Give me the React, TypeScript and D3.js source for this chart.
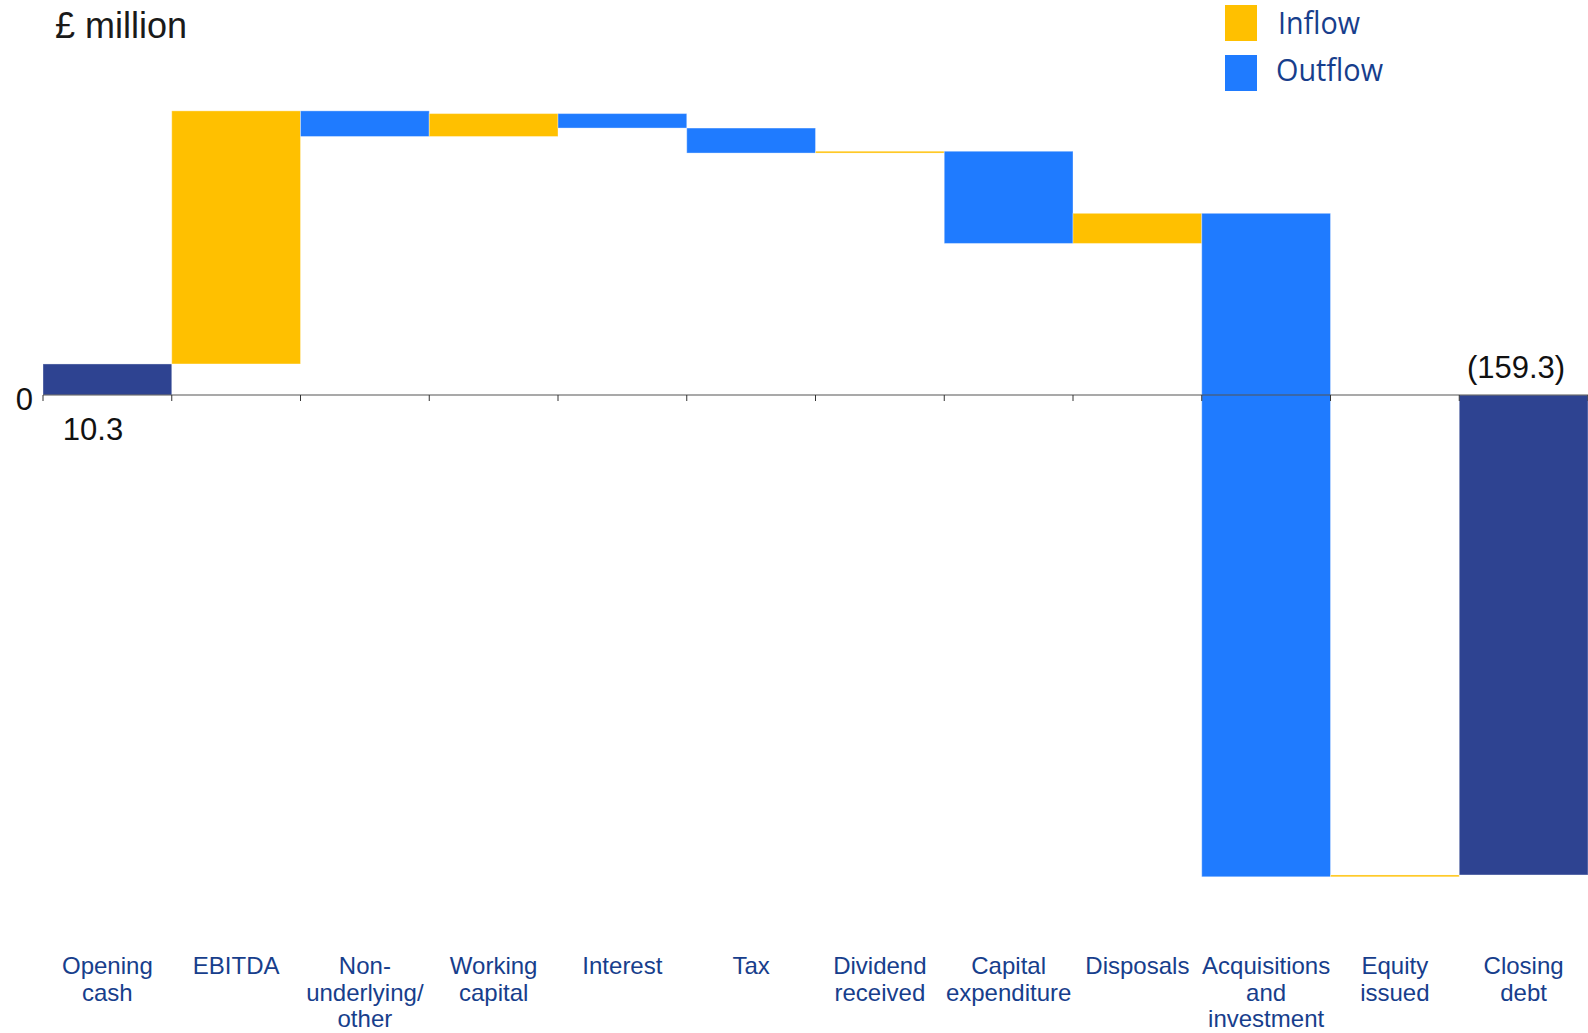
import React from "react";
import * as d3 from "d3";

const categories: string[][] = [
  ["Opening", "cash"],
  ["EBITDA"],
  ["Non-", "underlying/", "other"],
  ["Working", "capital"],
  ["Interest"],
  ["Tax"],
  ["Dividend", "received"],
  ["Capital", "expenditure"],
  ["Disposals"],
  ["Acquisitions", "and", "investment"],
  ["Equity", "issued"],
  ["Closing", "debt"],
];
const values: number[] = [10.3, 84.0, -8.5, 7.6, -4.8, -8.3, 0.6, -30.6, 10.0, -220.2, 0.6, -159.3];
const kinds: string[] = ["total", "flow", "flow", "flow", "flow", "flow", "flow", "flow", "flow", "flow", "flow", "total"];
const legendItems = ["Inflow", "Outflow"];
const openingLabel = "10.3";
const closingLabel = "(159.3)";

const W = 1588;
const H = 1033;
const COLORS = { in: "#FFC000", out: "#1F7BFF", total: "#2E4391" };
const TEXT_BLUE = "#173E8C";

export default function App() {
  const keys = categories.map((c) => c.join(" "));
  const x = d3.scaleBand<string>().domain(keys).range([43, W]).padding(0);
  const y = d3.scaleLinear().domain([-170, 100]).range([395 + 170 * 3.013, 395 - 100 * 3.013]);

  let run = 0;
  const bars = values.map((v, i) => {
    let y0: number, y1: number, color: string;
    if (kinds[i] === "total") {
      y0 = 0;
      y1 = v;
      color = COLORS.total;
      run = v;
    } else {
      y0 = run;
      y1 = run + v;
      run = y1;
      color = v >= 0 ? COLORS.in : COLORS.out;
    }
    return { key: keys[i], y0, y1, color };
  });

  const ticks = d3.range(keys.length + 1).map((i) => 43 + i * x.bandwidth());

  return (
    <svg
      width={W}
      height={H}
      style={{ position: "absolute", left: 0, top: 0, background: "#fff" }}
      fontFamily="'Liberation Sans', Arial, sans-serif"
    >
      <text x={55} y={38} fontSize={36} fill="#1a1a1a">£ million</text>

      {bars.map((b) => {
        const top = y(Math.max(b.y0, b.y1));
        const bot = y(Math.min(b.y0, b.y1));
        return (
          <rect
            key={b.key}
            x={x(b.key)!}
            y={top}
            width={x.bandwidth()}
            height={Math.max(bot - top, 1.5)}
            fill={b.color}
            stroke="#ffffff"
            strokeOpacity={0.35}
            strokeWidth={1}
          />
        );
      })}

      <line x1={43} x2={W} y1={y(0)} y2={y(0)} stroke="#555" strokeWidth={1.2} />
      {ticks.map((t, i) => (
        <line key={i} x1={t} x2={t} y1={y(0)} y2={y(0) + 6} stroke="#333" strokeWidth={1} />
      ))}

      <text x={33} y={410} fontSize={31} textAnchor="end" fill="#111">0</text>
      <text x={93} y={440} fontSize={31} textAnchor="middle" fill="#111">{openingLabel}</text>
      <text x={1516} y={378} fontSize={31} textAnchor="middle" fill="#111">{closingLabel}</text>

      {categories.map((lines, i) => (
        <text
          key={i}
          x={x(keys[i])! + x.bandwidth() / 2}
          y={974}
          fontSize={24}
          textAnchor="middle"
          fill={TEXT_BLUE}
        >
          {lines.map((l, j) => (
            <tspan key={j} x={x(keys[i])! + x.bandwidth() / 2} dy={j === 0 ? 0 : 26.5}>
              {l}
            </tspan>
          ))}
        </text>
      ))}

      <g>
        <rect x={1225} y={5} width={32} height={36} fill={COLORS.in} />
        <rect x={1225} y={55} width={32} height={36} fill={COLORS.out} />
        <text x={1278} y={34} fontSize={31.5} fill={TEXT_BLUE} fontFamily="'Open Sans', sans-serif" textLength={82} lengthAdjust="spacingAndGlyphs">
          {legendItems[0]}
        </text>
        <text x={1276} y={81} fontSize={31.5} fill={TEXT_BLUE} fontFamily="'Open Sans', sans-serif" textLength={107} lengthAdjust="spacingAndGlyphs">
          {legendItems[1]}
        </text>
      </g>
    </svg>
  );
}
